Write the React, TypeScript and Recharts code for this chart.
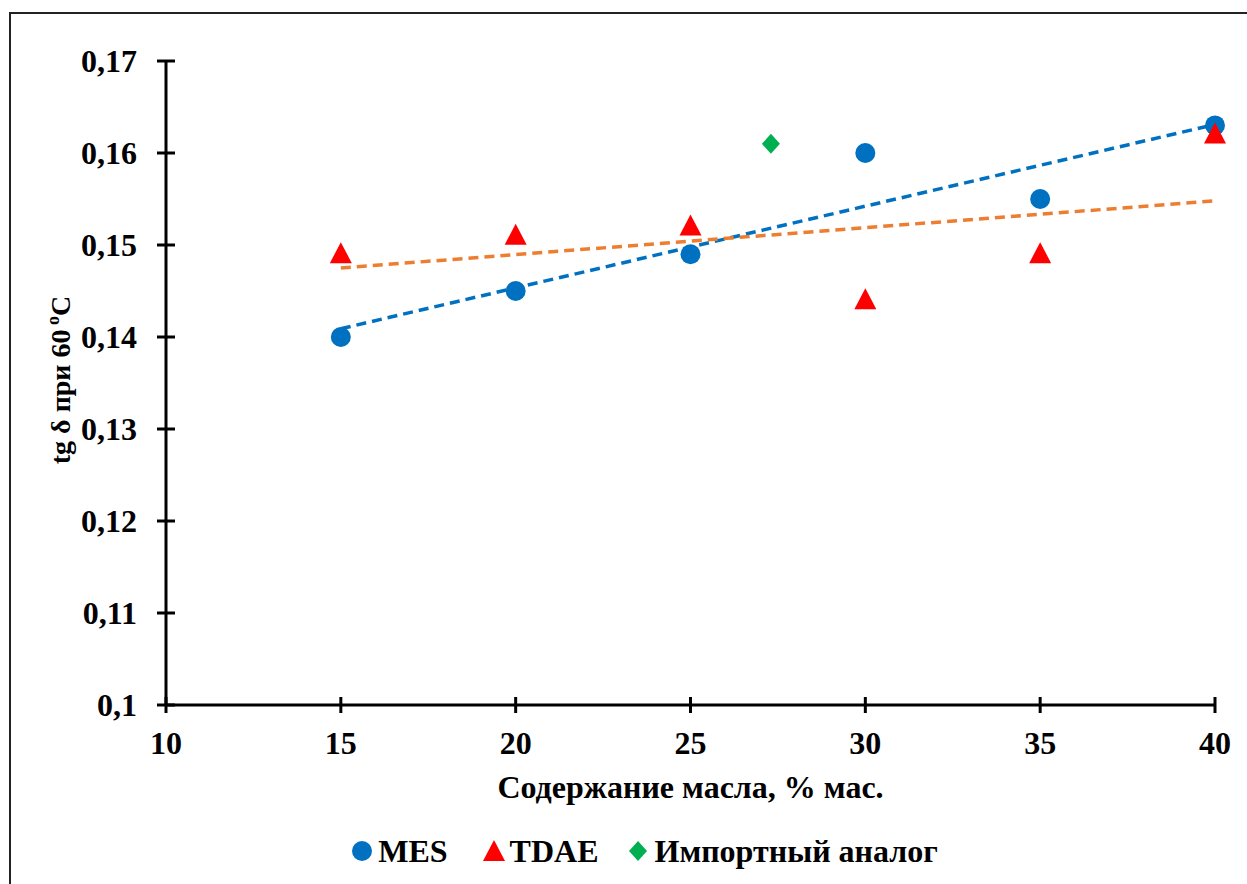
import { ScatterChart, Scatter, XAxis, YAxis } from 'recharts'

const xTicks = [10, 15, 20, 25, 30, 35, 40]
const yTicks = [0.1, 0.11, 0.12, 0.13, 0.14, 0.15, 0.16, 0.17]

const mesX = [15, 20, 25, 30, 35, 40]
const mesY = [0.14, 0.145, 0.149, 0.16, 0.155, 0.163]
const tdaeX = [15, 20, 25, 30, 35, 40]
const tdaeY = [0.149, 0.151, 0.152, 0.144, 0.149, 0.162]
const importX = [27.3]
const importY = [0.161]

// trend line ends
const mesTrendX = [15, 40]
const mesTrendY = [0.1409, 0.1631]
const tdaeTrendX = [15, 40]
const tdaeTrendY = [0.1475, 0.1548]

const FONT = '"Liberation Serif", "Times New Roman", serif'
const BLUE = '#0070C0'
const RED = '#FF0000'
const GREEN = '#00B050'
const ORANGE = '#ED7D31'

const pts = (xs: number[], ys: number[]) => xs.map((x, i) => ({ x, y: ys[i] }))

const Circle = (p: any) => <circle cx={p.cx} cy={p.cy} r={10} fill={BLUE} />
const Triangle = (p: any) => (
  <polygon points={`${p.cx},${p.cy - 12} ${p.cx + 11},${p.cy + 9} ${p.cx - 11},${p.cy + 9}`} fill={RED} />
)
const Diamond = (p: any) => (
  <polygon points={`${p.cx},${p.cy - 10} ${p.cx + 9},${p.cy} ${p.cx},${p.cy + 10} ${p.cx - 9},${p.cy}`} fill={GREEN} />
)
const NoDot = () => <g />

const YTick = ({ x, y, payload }: any) => (
  <g>
    <line x1={x + 20} x2={x + 38} y1={y} y2={y} stroke="#000" strokeWidth={3} />
    <text x={x} y={y} dy={11} textAnchor="end" fontSize={32} fontWeight="bold" fontFamily={FONT} fill="#000">
      {String(payload.value).replace('.', ',')}
    </text>
  </g>
)

const XTick = ({ x, y, payload }: any) => (
  <g>
    <line x1={x} x2={x} y1={y - 36} y2={y - 20} stroke="#000" strokeWidth={3} />
    <text x={x} y={y} dy={21} textAnchor="middle" fontSize={32} fontWeight="bold" fontFamily={FONT} fill="#000">
      {payload.value}
    </text>
  </g>
)

const legendItems = [
  { name: 'MES', gap: 36, icon: <circle cx={10} cy={11} r={10} fill={BLUE} /> },
  { name: 'TDAE', gap: 30, icon: <polygon points="10,0 21,21 -1,21" fill={RED} /> },
  { name: 'Импортный аналог', gap: 0, icon: <polygon points="10,1 19,11 10,21 1,11" fill={GREEN} /> },
]

const LegendBox = () => (
  <div
    style={{
      position: 'absolute',
      top: 833,
      left: 0,
      width: 1247,
      paddingLeft: 43,
      boxSizing: 'border-box',
      display: 'flex',
      justifyContent: 'center',
      fontFamily: FONT,
      fontWeight: 'bold',
      fontSize: 32,
      lineHeight: '36px',
      color: '#000',
    }}
  >
    {legendItems.map((it) => (
      <div key={it.name} style={{ display: 'flex', alignItems: 'center', gap: 6, marginRight: it.gap }}>
        <svg width={20} height={22} style={{ overflow: 'visible' }}>{it.icon}</svg>
        <span>{it.name}</span>
      </div>
    ))}
  </div>
)

export default function App() {
  return (
    <div style={{ position: 'fixed', left: 0, top: 0, width: 1247, height: 884, overflow: 'hidden', background: '#fff' }}>
      <div style={{ position: 'absolute', left: 9, top: 12, width: 1300, height: 1000, border: '2px solid #222' }} />
      <div style={{ position: 'absolute', left: 0, top: 0 }}>
        <ScatterChart width={1247} height={884} margin={{ top: 61, right: 32, bottom: 129, left: 86 }}>
          <XAxis
            type="number"
            dataKey="x"
            domain={[10, 40]}
            ticks={xTicks}
            tick={<XTick />}
            tickLine={false}
            tickSize={9}
            tickMargin={19}
            height={50}
            axisLine={{ stroke: '#000', strokeWidth: 3 }}
            label={{
              content: (p: any) => (
                <text
                  x={p.viewBox.x + p.viewBox.width / 2}
                  y={798}
                  textAnchor="middle"
                  fontSize={32}
                  fontWeight="bold"
                  fontFamily={FONT}
                  fill="#000"
                >
                  Содержание масла, % мас.
                </text>
              ),
            }}
          />
          <YAxis
            type="number"
            dataKey="y"
            domain={[0.1, 0.17]}
            ticks={yTicks}
            tick={<YTick />}
            tickLine={false}
            tickSize={9}
            tickMargin={20}
            width={80}
            axisLine={{ stroke: '#000', strokeWidth: 3 }}
            label={{
              content: () => (
                <text
                  x={70}
                  y={380}
                  transform="rotate(-90 70 380)"
                  textAnchor="middle"
                  fontSize={28}
                  fontWeight="bold"
                  fontFamily={FONT}
                  fill="#000"
                >
                  tg δ при 60
                  <tspan fontSize={18} dy={-11}> o</tspan>
                  <tspan dy={11}>C</tspan>
                </text>
              ),
            }}
          />
          <Scatter data={pts(mesTrendX, mesTrendY)} shape={NoDot} line={{ stroke: BLUE, strokeWidth: 3.5, strokeDasharray: '10 6' }} isAnimationActive={false} legendType="none" />
          <Scatter data={pts(tdaeTrendX, tdaeTrendY)} shape={NoDot} line={{ stroke: ORANGE, strokeWidth: 3.5, strokeDasharray: '10 6' }} isAnimationActive={false} legendType="none" />
          <Scatter name="MES" data={pts(mesX, mesY)} shape={Circle} isAnimationActive={false} />
          <Scatter name="TDAE" data={pts(tdaeX, tdaeY)} shape={Triangle} isAnimationActive={false} />
          <Scatter name="Импортный аналог" data={pts(importX, importY)} shape={Diamond} isAnimationActive={false} />
        </ScatterChart>
      </div>
      <LegendBox />
    </div>
  )
}
